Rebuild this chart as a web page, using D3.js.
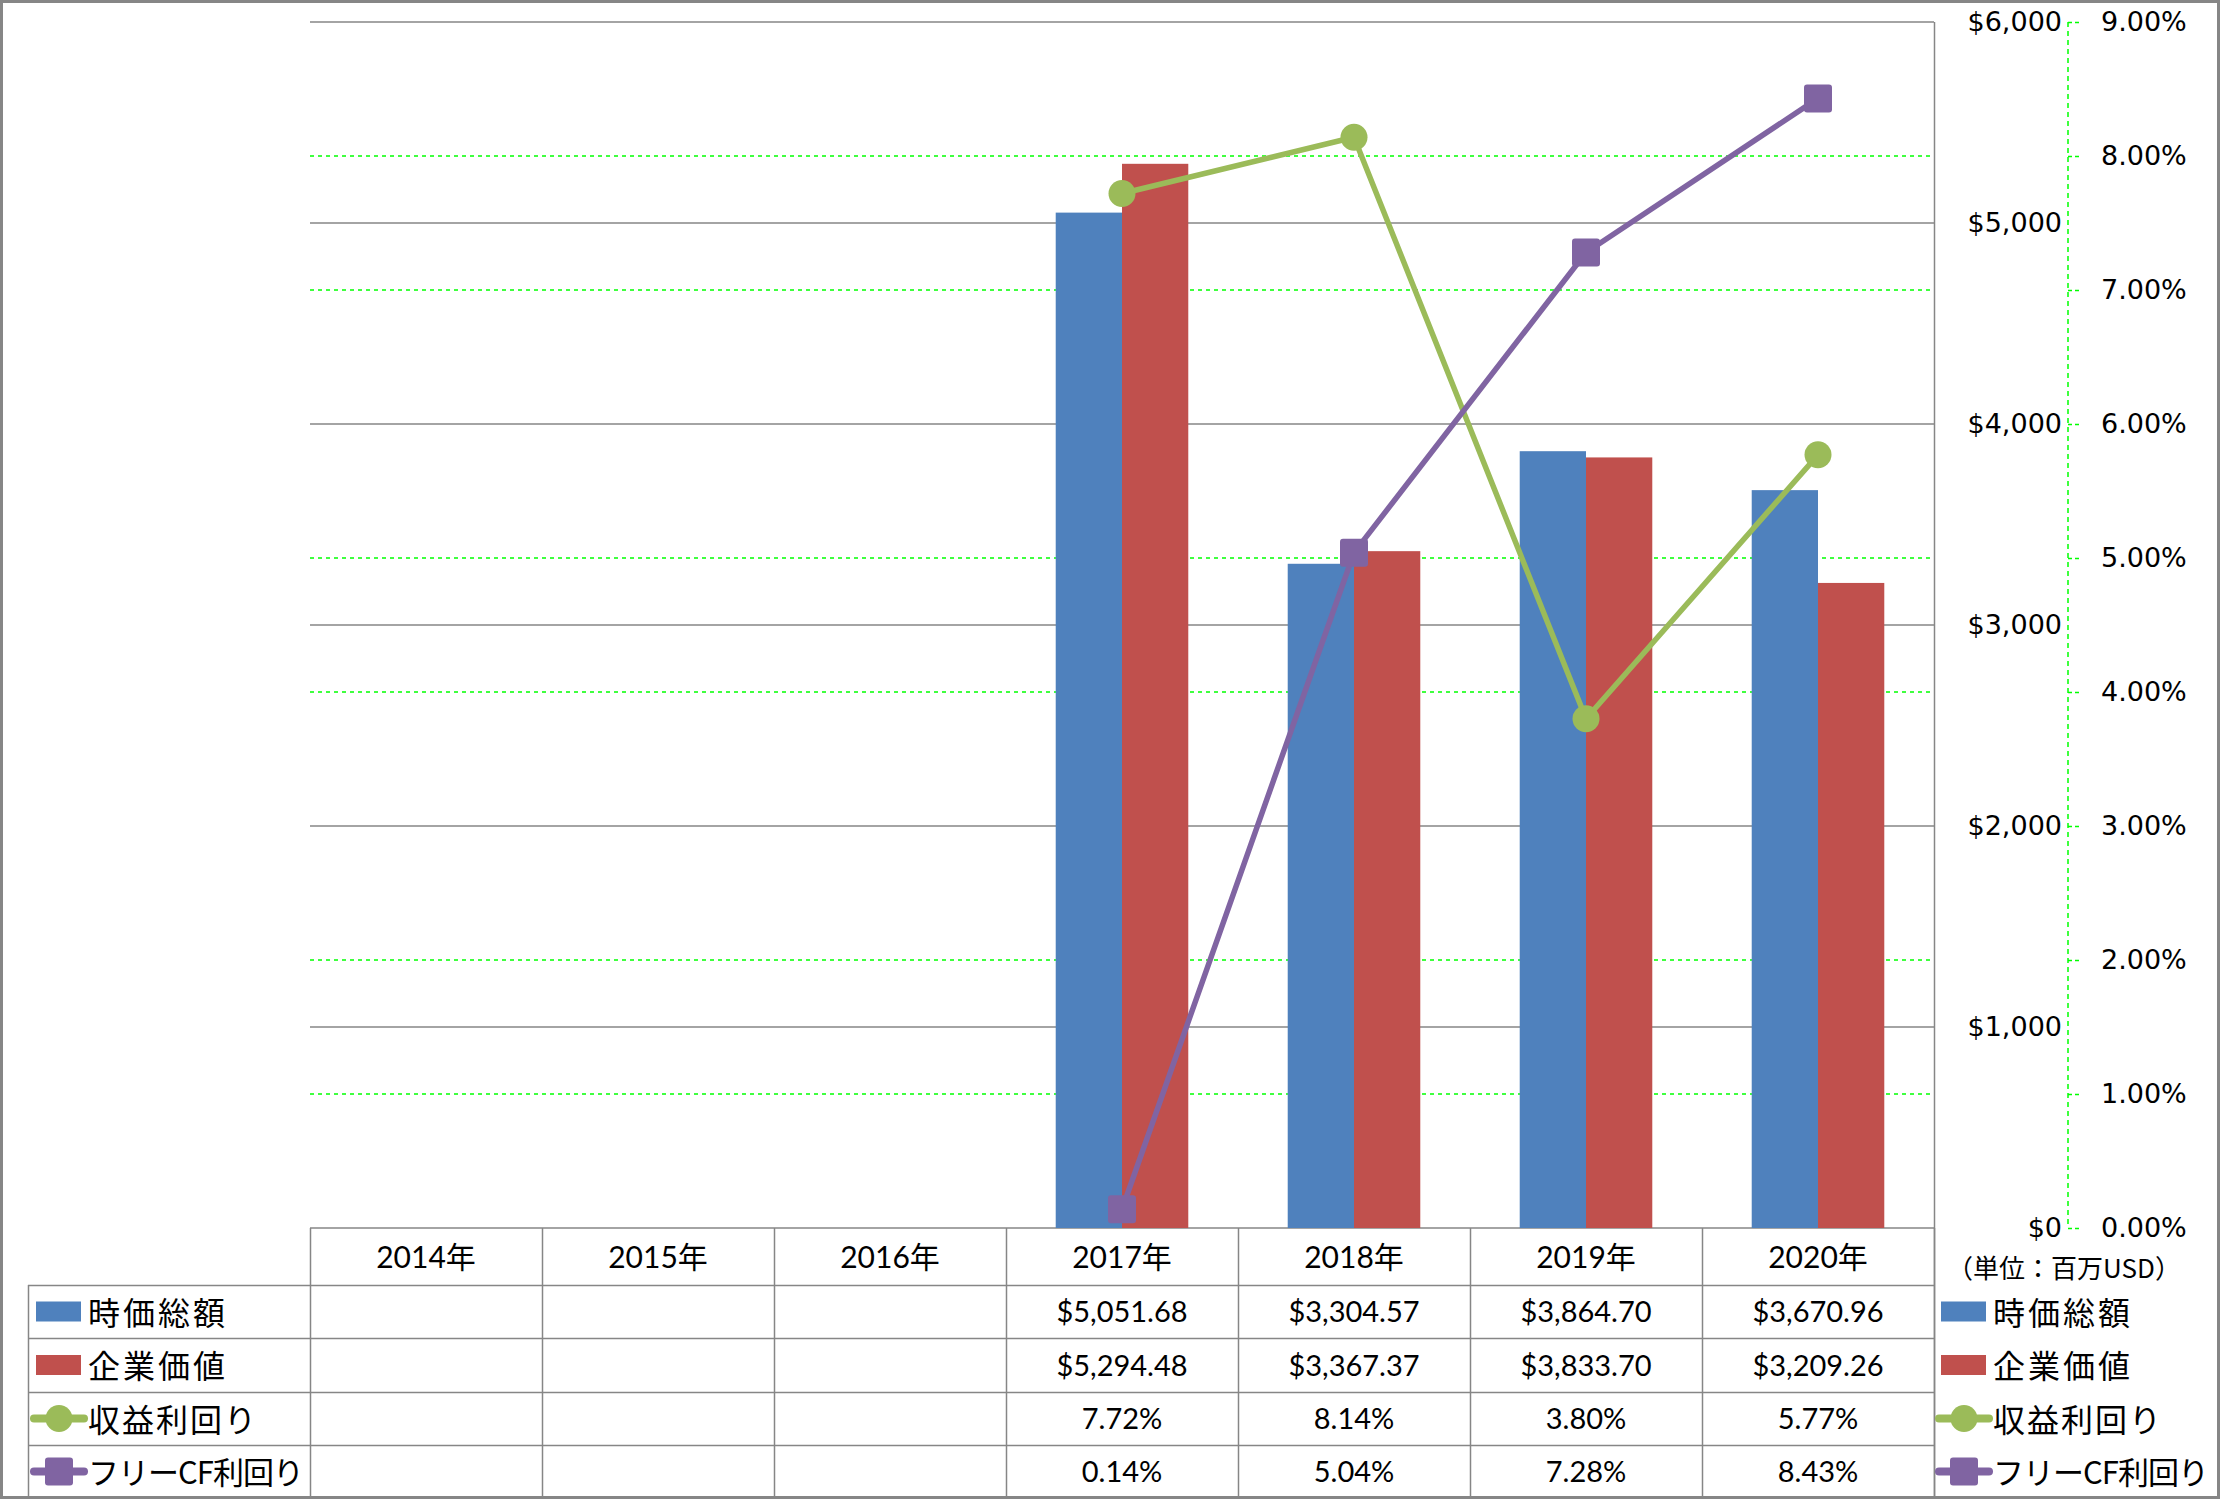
<!DOCTYPE html>
<html><head><meta charset="utf-8">
<script src="https://d3js.org/d3.v7.min.js"></script>
<style>
html,body{margin:0;padding:0;background:#fff;}
svg{display:block;}
</style></head>
<body>
<svg id="c" width="2221" height="1500"></svg>
<script>
// ---- data ----
const years = ["2014年","2015年","2016年","2017年","2018年","2019年","2020年"];
const marketCap = [null,null,null,5051.68,3304.57,3864.70,3670.96];
const enterpriseValue = [null,null,null,5294.48,3367.37,3833.70,3209.26];
const earningsYield = [null,null,null,7.72,8.14,3.80,5.77];
const fcfYield = [null,null,null,0.14,5.04,7.28,8.43];
const seriesNames = ["時価総額","企業価値","収益利回り","フリーCF利回り"];
const leftTicks = [0,1000,2000,3000,4000,5000,6000];
const rightTicks = [0,1,2,3,4,5,6,7,8,9];
const unitLabel = "（単位：百万USD）";

const C = {blue:"#4F81BD", red:"#C0504D", green:"#9BBB59", purple:"#8064A2", grid:"#868686", dash:"#00FF00"};
const JP = "'Noto Sans CJK JP', sans-serif";
const NUM = "Lato, 'Noto Sans CJK JP', sans-serif";
const AX = "'DejaVu Sans', sans-serif";

const svg = d3.select("#c");
const L = 310, R = 1934, T = 22, B = 1228;
const rows = [1285,1338,1392,1445,1498];

const x = d3.scaleBand().domain(years).range([L,R]).paddingInner(0).paddingOuter(0);
const y = d3.scaleLinear().domain([0,6000]).range([B,T]);
const y2 = d3.scaleLinear().domain([0,9]).range([B,T]);
const bw = x.bandwidth();
const barW = bw/3.5;
const xs = d3.scaleBand().domain(["mc","ev"]).range([(bw-2*barW)/2,(bw+2*barW)/2]);

// outer frame
svg.append("rect").attr("x",1.5).attr("y",1.5).attr("width",2217).attr("height",1496)
  .attr("fill","none").attr("stroke",C.grid).attr("stroke-width",3);

// green dashed gridlines (secondary)
svg.append("g").selectAll("line").data(rightTicks.filter(d=>d>0&&d<9&&d%3!==0)).join("line")
  .attr("x1",L).attr("x2",R).attr("y1",d=>y2(d)).attr("y2",d=>y2(d))
  .attr("stroke",C.dash).attr("stroke-width",1.3).attr("stroke-dasharray","4,4");
// gray gridlines (primary)
svg.append("g").selectAll("line").data(leftTicks).join("line")
  .attr("x1",L).attr("x2",R).attr("y1",d=>y(d)).attr("y2",d=>y(d))
  .attr("stroke",C.grid).attr("stroke-width",1.6);
// right plot border
svg.append("line").attr("x1",R+0.5).attr("x2",R+0.5).attr("y1",T).attr("y2",1498)
  .attr("stroke",C.grid).attr("stroke-width",1.5);

// bars
const idx = d3.range(years.length);
const gb = svg.append("g");
gb.selectAll("rect.mc").data(idx.filter(i=>marketCap[i]!=null)).join("rect")
  .attr("x",i=>x(years[i])+xs("mc")).attr("width",xs.bandwidth())
  .attr("y",i=>y(marketCap[i])).attr("height",i=>B-y(marketCap[i])).attr("fill",C.blue);
gb.selectAll("rect.ev").data(idx.filter(i=>enterpriseValue[i]!=null)).join("rect")
  .attr("x",i=>x(years[i])+xs("ev")).attr("width",xs.bandwidth())
  .attr("y",i=>y(enterpriseValue[i])).attr("height",i=>B-y(enterpriseValue[i])).attr("fill",C.red);

// lines
const cx = i=>x(years[i])+bw/2;
const lineGen = arr => d3.line().defined(i=>arr[i]!=null).x(cx).y(i=>y2(arr[i]))(idx);
svg.append("path").attr("d",lineGen(earningsYield)).attr("fill","none")
  .attr("stroke",C.green).attr("stroke-width",5.5).attr("stroke-linejoin","round");
svg.append("path").attr("d",lineGen(fcfYield)).attr("fill","none")
  .attr("stroke",C.purple).attr("stroke-width",5.5).attr("stroke-linejoin","round");
svg.append("g").selectAll("circle").data(idx.filter(i=>earningsYield[i]!=null)).join("circle")
  .attr("cx",cx).attr("cy",i=>y2(earningsYield[i])).attr("r",13.5).attr("fill",C.green);
svg.append("g").selectAll("rect").data(idx.filter(i=>fcfYield[i]!=null)).join("rect")
  .attr("x",i=>cx(i)-14).attr("y",i=>y2(fcfYield[i])-14).attr("width",28).attr("height",28)
  .attr("rx",3).attr("fill",C.purple);

// primary axis labels (placed right of plot)
const AXX = 2068;
const ga = svg.append("g").attr("transform",`translate(${AXX},0)`)
  .call(d3.axisLeft(y).tickValues(leftTicks).tickSize(0).tickPadding(6).tickFormat(d3.format("$,.0f")));
ga.select(".domain").remove();
ga.selectAll("text").attr("font-family",AX).attr("font-size",27).attr("fill","#000");

// secondary axis
const gs = svg.append("g").attr("transform",`translate(${AXX},0)`)
  .call(d3.axisRight(y2).tickValues(rightTicks).tickSize(12).tickPadding(21).tickFormat(d=>d3.format(".2%")(d/100)));
gs.select(".domain").attr("d",`M0,${T}V${B}`).attr("stroke",C.dash).attr("stroke-width",1.5).attr("stroke-dasharray","5,4");
gs.selectAll(".tick line").attr("stroke",C.dash).attr("stroke-width",1.5).attr("stroke-dasharray","4,3");
gs.selectAll("text").attr("font-family",AX).attr("font-size",27).attr("fill","#000");

// unit label
svg.append("text").attr("x",2064).attr("y",1266).attr("text-anchor","middle").attr("dominant-baseline","central")
  .attr("font-family",JP).attr("font-size",26).text(unitLabel);

// data table grid
const tg = svg.append("g").attr("stroke",C.grid).attr("stroke-width",1.5);
[L, ...years.map(d=>x(d)+bw)].forEach(v=>{
  tg.append("line").attr("x1",Math.round(v)+0.5).attr("x2",Math.round(v)+0.5).attr("y1",B).attr("y2",1498);
});
tg.append("line").attr("x1",28.5).attr("x2",28.5).attr("y1",rows[0]).attr("y2",1498);
rows.slice(0,4).forEach(r=>{
  tg.append("line").attr("x1",28).attr("x2",R).attr("y1",r+0.5).attr("y2",r+0.5);
});

// header
svg.append("g").selectAll("text").data(years).join("text")
  .attr("x",d=>x(d)+bw/2).attr("y",(B+rows[0])/2-1).attr("text-anchor","middle").attr("dominant-baseline","central")
  .attr("font-family",NUM).attr("font-size",30).text(d=>d);

const fmtUsd = d3.format("$,.2f");
const fmtPct = d=>d3.format(".2%")(d/100);
const tableSeries = [[marketCap,fmtUsd],[enterpriseValue,fmtUsd],[earningsYield,fmtPct],[fcfYield,fmtPct]];
tableSeries.forEach(([arr,f],r)=>{
  const yc = (rows[r]+rows[r+1])/2-1;
  svg.append("g").selectAll("text").data(idx.filter(i=>arr[i]!=null)).join("text")
    .attr("x",i=>x(years[i])+bw/2).attr("y",yc).attr("text-anchor","middle").attr("dominant-baseline","central")
    .attr("font-family",NUM).attr("font-size",29).text(i=>f(arr[i]));
});

// legend keys (left in table, right after plot)
const nameSpacing = [3,3,2,-1];
const nameSize = [32,32,32,31];
function legendKey(x0, r){
  const yc = (rows[r]+rows[r+1])/2;
  const g = svg.append("g");
  if(r<2){
    g.append("rect").attr("x",x0+8).attr("y",yc-10).attr("width",45).attr("height",20).attr("fill",r===0?C.blue:C.red);
  } else {
    const col = r===2?C.green:C.purple;
    g.append("line").attr("x1",x0+6).attr("x2",x0+56).attr("y1",yc).attr("y2",yc)
      .attr("stroke",col).attr("stroke-width",8).attr("stroke-linecap","round");
    if(r===2) g.append("circle").attr("cx",x0+31).attr("cy",yc).attr("r",13.5).attr("fill",col);
    else g.append("rect").attr("x",x0+17).attr("y",yc-14).attr("width",28).attr("height",28).attr("rx",3).attr("fill",col);
  }
  g.append("text").attr("x",x0+60).attr("y",yc-1).attr("dominant-baseline","central")
    .attr("font-family",JP).attr("font-size",nameSize[r]).attr("letter-spacing",nameSpacing[r]).text(seriesNames[r]);
}
[0,1,2,3].forEach(r=>{ legendKey(28,r); legendKey(1933,r); });
</script>
</body></html>
